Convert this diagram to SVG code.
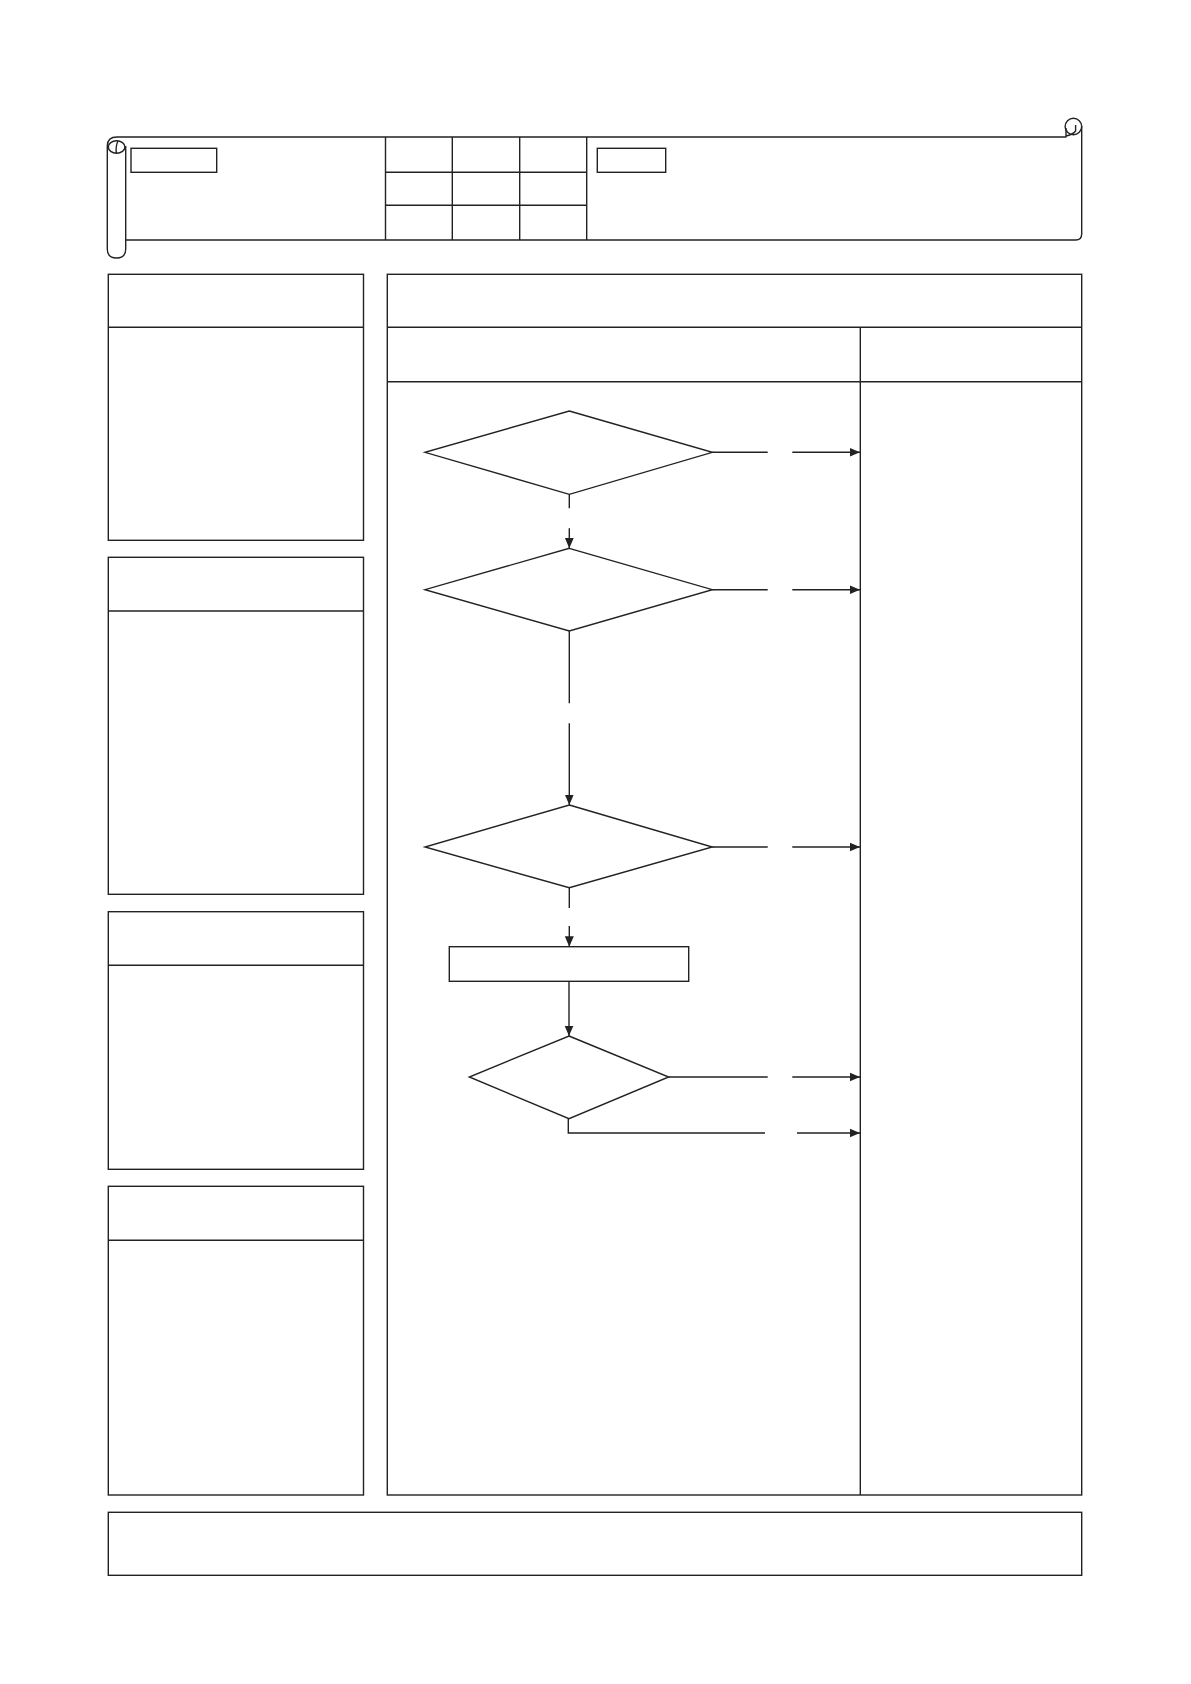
<svg xmlns="http://www.w3.org/2000/svg" width="1191" height="1684" viewBox="0 0 1191 1684">
<style>
.ln{fill:none;stroke:#222;stroke-width:1.4}
.box{fill:#fff;stroke:#222;stroke-width:1.4}
.cn{fill:none;stroke:#222;stroke-width:1.4}
</style>
<defs>
<marker id="ah" markerUnits="userSpaceOnUse" markerWidth="12" markerHeight="12" refX="10.5" refY="5.5" orient="auto">
<path d="M0,1 L10.5,5.5 L0,10 Z" fill="#222"/>
</marker>
</defs>
<rect width="1191" height="1684" fill="#fff"/>

<g id="header-scroll">
<path class="ln" d="M117,137 L1066.5,137 M125.7,240 L1075.7,240 Q1081.7,240 1081.7,234 L1081.7,126"/>
<path class="ln" d="M125.7,146 L125.7,249 Q125.7,258 116.5,258 Q107.3,258 107.3,249 L107.3,146 Q107.3,137 117,137"/>
<ellipse class="ln" cx="116.6" cy="147" rx="8.3" ry="6.2"/>
<path class="ln" d="M118,141 Q115.5,146 116.3,153"/>
<circle class="ln" cx="1073.4" cy="126.5" r="8.3"/>
<path class="ln" d="M1066,137 L1066,128 M1066,136 Q1072,135 1075.6,131 L1075.6,125"/>
<rect id="label-left" class="ln" x="131" y="148.3" width="85.7" height="24"/>
<rect id="label-right" class="ln" x="597.3" y="148.3" width="68.4" height="24"/>
<g id="grid">
<path class="ln" d="M385.5,137 L385.5,240 M452.3,137 L452.3,240 M519.7,137 L519.7,240 M586.7,137 L586.7,240 M385.5,172.3 L586.7,172.3 M385.5,205.3 L586.7,205.3"/>
</g>
</g>

<g id="panel-1"><rect class="box" x="108.3" y="274.3" width="255.2" height="266"/><line class="ln" x1="108.3" y1="327.3" x2="363.5" y2="327.3"/></g>
<g id="panel-2"><rect class="box" x="108.3" y="557.3" width="255.2" height="337"/><line class="ln" x1="108.3" y1="611" x2="363.5" y2="611"/></g>
<g id="panel-3"><rect class="box" x="108.3" y="911.7" width="255.2" height="257.6"/><line class="ln" x1="108.3" y1="965.3" x2="363.5" y2="965.3"/></g>
<g id="panel-4"><rect class="box" x="108.3" y="1186.3" width="255.2" height="308.7"/><line class="ln" x1="108.3" y1="1240.3" x2="363.5" y2="1240.3"/></g>

<g id="main-panel">
<rect class="box" x="387.3" y="274.3" width="694.4" height="1220.7"/>
<line class="ln" x1="387.3" y1="327.3" x2="1081.7" y2="327.3"/>
<line class="ln" x1="387.3" y1="381.7" x2="1081.7" y2="381.7"/>
<line class="ln" x1="860.3" y1="327.3" x2="860.3" y2="1495"/>
</g>

<g id="bottom-box"><rect class="box" x="108.3" y="1512.3" width="973.4" height="63"/></g>

<g id="decision-1"><polygon class="box" points="569.3,411 712.3,452.3 569.3,494.3 425,452.3"/></g>
<g id="decision-2"><polygon class="box" points="569.3,548.3 712.3,589.7 569.3,631 425,589.7"/></g>
<g id="decision-3"><polygon class="box" points="569.3,805 712.3,847 569.3,887.7 425,847"/></g>
<g id="process-1"><rect class="box" x="449.3" y="946.7" width="239.4" height="34.6"/></g>
<g id="decision-4"><polygon class="box" points="569,1036 668.7,1077 569,1118.7 469.3,1077"/></g>

<g id="connectors">
<path class="cn" d="M712.3,452.3 L767.7,452.3"/>
<path class="cn" d="M792.3,452.3 L860,452.3" marker-end="url(#ah)"/>
<path class="cn" d="M569.3,494.3 L569.3,508.3"/>
<path class="cn" d="M569.3,528.3 L569.3,548.3" marker-end="url(#ah)"/>
<path class="cn" d="M712.3,589.7 L767.7,589.7"/>
<path class="cn" d="M792.3,589.7 L860,589.7" marker-end="url(#ah)"/>
<path class="cn" d="M569.3,631 L569.3,703.3"/>
<path class="cn" d="M569.3,723.3 L569.3,805" marker-end="url(#ah)"/>
<path class="cn" d="M712.3,847 L767.7,847"/>
<path class="cn" d="M792.3,847 L860,847" marker-end="url(#ah)"/>
<path class="cn" d="M569.3,887.7 L569.3,908"/>
<path class="cn" d="M569.3,926 L569.3,946.7" marker-end="url(#ah)"/>
<path class="cn" d="M569,981.3 L569,1036" marker-end="url(#ah)"/>
<path class="cn" d="M668.7,1077 L767.7,1077"/>
<path class="cn" d="M792.3,1077 L860,1077" marker-end="url(#ah)"/>
<path class="cn" d="M568.3,1118.7 L568.3,1133 L765,1133"/>
<path class="cn" d="M797,1133 L860,1133" marker-end="url(#ah)"/>
</g>
</svg>
